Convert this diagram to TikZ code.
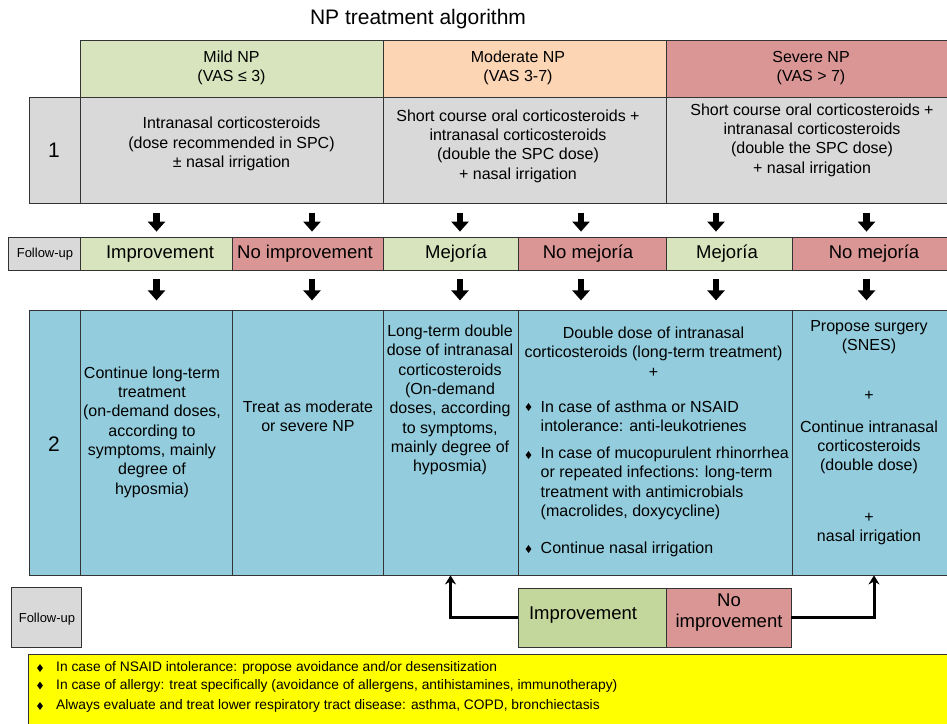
\documentclass[tikz,border=0pt]{standalone}
\usepackage{fontspec}
\setmainfont{Liberation Sans}
\usetikzlibrary{arrows.meta,shapes.geometric,fit,calc}
\definecolor{mildgreen}{HTML}{D7E4BD}
\definecolor{modpeach}{HTML}{FCD5B5}
\definecolor{sevred}{HTML}{DA9694}
\definecolor{cellgray}{HTML}{D9D9D9}
\definecolor{cellblue}{HTML}{93CDDD}
\definecolor{impgreen}{HTML}{C3D69B}
\definecolor{notebg}{HTML}{FFFF00}
\definecolor{bordercol}{HTML}{333333}
\begin{document}
\begin{tikzpicture}[x=1pt,y=-1pt,
  cell/.style={draw=bordercol, line width=0.8pt, inner sep=0pt},
  maintext/.style={font=\fontsize{16}{19.3}\selectfont, align=center, inner sep=0pt},
  lefttext/.style={font=\fontsize{16}{19.3}\selectfont, align=left, inner sep=0pt, anchor=west},
  futext/.style={font=\fontsize{18.5}{21}\selectfont, align=center, inner sep=0pt},
  smalltext/.style={font=\fontsize{13}{15}\selectfont, inner sep=0pt},
  numtext/.style={font=\fontsize{21}{24}\selectfont, inner sep=0pt},
  notetext/.style={font=\fontsize{13.8}{16}\selectfont, inner sep=0pt, anchor=west},
  blockarrow/.style={line width=6.5pt, -{Triangle[length=10pt,width=17pt]}, black},
  looparrow/.style={line width=3pt, -{Stealth[length=9pt,width=11pt]}, black},
  diabullet/.style={diamond, fill=black, inner sep=0pt, minimum width=6pt, minimum height=8pt},
]
\useasboundingbox (0,0) rectangle (947,723);
\fill[white] (0,0) rectangle (947,723);

% title
\node[font=\fontsize{21}{24}\selectfont, inner sep=0pt] (title) at (418,19) {NP treatment algorithm};

% header row
\node[cell, fill=mildgreen, fit={(80,40) (383,97)}] (hmild) {};
\node[cell, fill=modpeach, fit={(383,40) (666,97)}] (hmod) {};
\node[cell, fill=sevred, fit={(666,40) (956,97)}] (hsev) {};
\node[maintext] (thmild) at (231.5,68) {Mild NP\\(VAS ≤ 3)};
\node[maintext] (thmod) at (518,68) {Moderate NP\\(VAS 3-7)};
\node[maintext] (thsev) at (811,68) {Severe NP\\(VAS > 7)};

% row 1
\node[cell, fill=cellgray, fit={(29,97) (80,203)}] (r1lab) {};
\node[cell, fill=cellgray, fit={(80,97) (383,203)}] (r1mild) {};
\node[cell, fill=cellgray, fit={(383,97) (666,203)}] (r1mod) {};
\node[cell, fill=cellgray, fit={(666,97) (956,203)}] (r1sev) {};
\node[numtext] (t1lab) at (54,150) {1};
\node[maintext] (t1mild) at (231.5,144) {Intranasal corticosteroids\\(dose recommended in SPC)\\± nasal irrigation};
\node[maintext] (t1mod) at (518,146) {Short course oral corticosteroids +\\intranasal corticosteroids\\(double the SPC dose)\\+ nasal irrigation};
\node[maintext] (t1sev) at (812,140) {Short course oral corticosteroids +\\intranasal corticosteroids\\(double the SPC dose)\\+ nasal irrigation};

% follow-up row
\node[cell, fill=cellgray, fit={(8,237) (80,270)}] (fulab) {};
\node[smalltext] (tfulab) at (45,254) {Follow-up};
\node[cell, fill=mildgreen, fit={(80,237) (232,270)}] (fu1) {};
\node[cell, fill=sevred, fit={(232,237) (383,270)}] (fu2) {};
\node[cell, fill=mildgreen, fit={(383,237) (518,270)}] (fu3) {};
\node[cell, fill=sevred, fit={(518,237) (666,270)}] (fu4) {};
\node[cell, fill=mildgreen, fit={(666,237) (792,270)}] (fu5) {};
\node[cell, fill=sevred, fit={(792,237) (956,270)}] (fu6) {};
\node[futext] (tfu1) at (160,254) {Improvement};
\node[futext] (tfu2) at (305,254) {No improvement};
\node[futext] (tfu3) at (456,254) {Mejoría};
\node[futext] (tfu4) at (588,254) {No mejoría};
\node[futext] (tfu5) at (727,254) {Mejoría};
\node[futext] (tfu6) at (874,254) {No mejoría};

% arrows row 1 -> follow-up -> row 2
\foreach \c/\d in {fu1/0.5, fu2/4.5, fu3/9.5, fu4/-11, fu5/-13, fu6/-7.5}{
  \draw[blockarrow] ([xshift=\d pt, yshift=24pt]\c.north) -- ([xshift=\d pt, yshift=5pt]\c.north);
  \draw[blockarrow] ([xshift=\d pt, yshift=-9pt]\c.south) -- ([xshift=\d pt, yshift=-30pt]\c.south);
}

% row 2
\node[cell, fill=cellblue, fit={(29,310) (80,575)}] (r2lab) {};
\node[cell, fill=cellblue, fit={(80,310) (232,575)}] (r2c1) {};
\node[cell, fill=cellblue, fit={(232,310) (383,575)}] (r2c2) {};
\node[cell, fill=cellblue, fit={(383,310) (518,575)}] (r2c3) {};
\node[cell, fill=cellblue, fit={(518,310) (792,575)}] (r2c4) {};
\node[cell, fill=cellblue, fit={(792,310) (956,575)}] (r2c5) {};
\node[numtext] (t2lab) at (54,444) {2};

\node[maintext] (t2c1) at (152,432) {Continue long-term\\treatment\\(on-demand doses,\\according to\\symptoms, mainly\\degree of\\hyposmia)};
\node[maintext] (t2c2) at (308,416) {Treat as moderate\\or severe NP};
\node[maintext] (t2c3) at (450,400) {Long-term double\\dose of intranasal\\corticosteroids\\(On-demand\\doses, according\\to symptoms,\\mainly degree of\\hyposmia)};
\node[maintext] (t2c4) at (653.5,352) {Double dose of intranasal\\corticosteroids (long-term treatment)\\+};
\node[diabullet] (b41) at (528.5,407) {};
\node[diabullet] (b42) at (528.5,455) {};
\node[diabullet] (b43) at (528.5,549) {};
\node[lefttext] (i41) at (540.5,416.5) {In case of asthma or NSAID\\intolerance: anti-leukotrienes};
\node[lefttext] (i42) at (540.5,483.5) {In case of mucopurulent rhinorrhea\\or repeated infections: long-term\\treatment with antimicrobials\\(macrolides, doxycycline)};
\node[lefttext] (i43) at (540.5,549) {Continue nasal irrigation};
\node[maintext] (t2c5) at (869,432.5) {Propose surgery\\(SNES)\\[31pt]+\\[12pt]Continue intranasal\\corticosteroids\\(double dose)\\[32pt]+\\nasal irrigation};

% bottom follow-up
\node[cell, fill=cellgray, fit={(11,587) (81,647)}] (fulab2) {};
\node[smalltext] (tfulab2) at (47,619) {Follow-up};
\node[cell, fill=impgreen, fit={(518,588) (666,647)}] (bimp) {};
\node[cell, fill=sevred, fit={(666,588) (791,647)}] (bnoimp) {};
\node[futext] (tbimp) at (583,615) {Improvement};
\node[futext] (tbnoimp) at (729,613) {No\\improvement};
\draw[looparrow] (bimp.west) -| (r2c3.south);
\draw[looparrow] (bnoimp.east) -| (r2c5.south);

% notes box
\node[cell, fill=notebg, fit={(28,654) (956,740)}] (notes) {};
\node[diabullet] (n1b) at (40,668) {};
\node[diabullet] (n2b) at (40,685.5) {};
\node[diabullet] (n3b) at (40,706) {};
\node[notetext] (n1) at (56,668) {In case of NSAID intolerance: propose avoidance and/or desensitization};
\node[notetext] (n2) at (56,685.5) {In case of allergy: treat specifically (avoidance of allergens, antihistamines, immunotherapy)};
\node[notetext] (n3) at (56,706) {Always evaluate and treat lower respiratory tract disease: asthma, COPD, bronchiectasis};
\end{tikzpicture}
\end{document}
